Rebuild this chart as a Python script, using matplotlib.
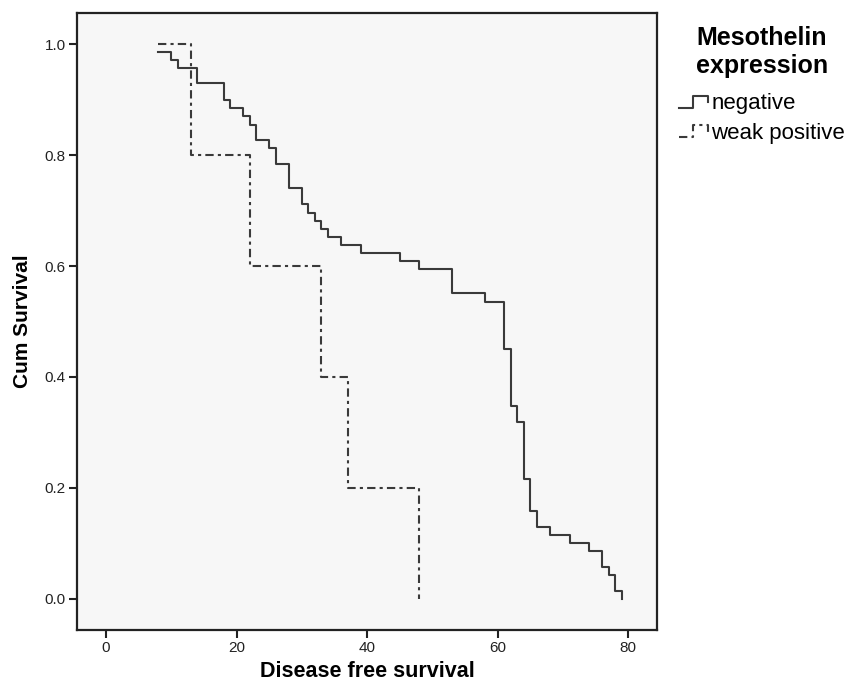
import matplotlib
matplotlib.use('Agg')
import matplotlib.pyplot as plt
from matplotlib.lines import Line2D
from matplotlib.legend_handler import HandlerBase

plt.rcParams['font.family'] = ['Liberation Sans', 'DejaVu Sans']

# Kaplan-Meier steps, negative group
neg_times = [8, 10, 11, 14, 18, 19, 21, 22, 23, 25, 26, 28, 30, 31, 32, 33, 34, 36,
             39, 45, 48, 53, 58, 61, 62, 63, 64, 65, 66, 68, 71, 74, 76, 77, 78, 79]
neg_surv = [0.986, 0.972, 0.957, 0.929, 0.899, 0.884, 0.870, 0.855, 0.827, 0.812,
            0.783, 0.741, 0.711, 0.696, 0.681, 0.667, 0.652, 0.638, 0.623, 0.609,
            0.594, 0.551, 0.536, 0.450, 0.348, 0.319, 0.217, 0.159, 0.130, 0.116,
            0.101, 0.087, 0.058, 0.043, 0.014, 0.0]

# weak positive group
pos_times = [8, 13, 22, 33, 37, 48]
pos_surv = [1.0, 0.8, 0.6, 0.4, 0.2, 0.0]

x_ticks = [0, 20, 40, 60, 80]
y_ticks = [0.0, 0.2, 0.4, 0.6, 0.8, 1.0]
labels = ['negative', 'weak positive']


class StepHandler(HandlerBase):
    # little step glyph like the SPSS legend
    def create_artists(self, legend, orig_handle, xdescent, ydescent,
                       width, height, fontsize, trans):
        x0, y0 = -xdescent, -ydescent
        xs = [x0, x0 + 0.45 * width, x0 + 0.45 * width, x0 + 0.92 * width, x0 + 0.92 * width]
        ys = [y0 + 0.1 * height, y0 + 0.1 * height, y0 + 0.85 * height,
              y0 + 0.85 * height, y0 + 0.45 * height]
        line = Line2D(xs, ys)
        line.update_from(orig_handle)
        line.set_drawstyle('default')
        line.set_clip_box(None)
        line.set_clip_on(False)
        line.set_transform(trans)
        return [line]


fig = plt.figure(figsize=(8.49, 6.82), dpi=100)
ax = fig.add_axes([77 / 849, 1 - 630 / 682, 580 / 849, 617 / 682])
ax.set_facecolor('#f7f7f7')

col = '#3a3a3a'
l1, = ax.plot(neg_times, neg_surv, drawstyle='steps-post', color=col, lw=1.5)
l2, = ax.plot(pos_times, pos_surv, drawstyle='steps-post', color=col, lw=1.5,
              dashes=(4, 2, 1.5, 2))

ax.set_xlim(-4.44, 84.4)
ax.set_ylim(-0.056, 1.056)
ax.set_xticks(x_ticks)
ax.set_yticks(y_ticks)
ax.set_yticklabels(['%.1f' % v for v in y_ticks])
ax.tick_params(direction='out', length=6, width=1.5, color='#222222',
               labelsize=11, labelcolor='#222222', pad=2)
for s in ax.spines.values():
    s.set_linewidth(1.6)
    s.set_color('#222222')

ax.set_xlabel('Disease free survival', fontsize=15.5, fontweight='bold', labelpad=4)
ax.set_ylabel('Cum Survival', fontsize=15, fontweight='bold', labelpad=9)

leg = fig.legend([l1, l2], labels, handler_map={Line2D: StepHandler()},
                 loc='upper left', bbox_to_anchor=(679 / 849, 1 - 26 / 682),
                 frameon=False, fontsize=16, handlelength=1.4, handletextpad=0.05,
                 labelspacing=0.38, borderpad=0, borderaxespad=0,
                 title='Mesothelin\nexpression',
                 title_fontproperties={'weight': 'bold', 'size': 18})
leg._legend_box.sep = 11

fig.savefig('out.png', dpi=100)
